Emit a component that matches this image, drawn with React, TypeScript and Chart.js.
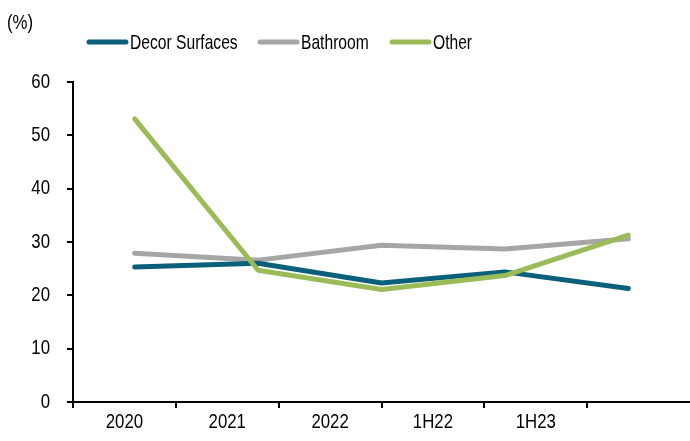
import React, { useEffect, useRef } from "react";
import { Chart, registerables } from "chart.js";

Chart.register(...registerables);

const axisLabels = ["2020", "2021", "2022", "1H22", "1H23", ""];
const pointLabels = ["2020", "2021", "2022", "1H22", "1H23"];
const decorSurfaces = [25.3, 26.0, 22.3, 24.4, 21.3];
const bathroom = [27.9, 26.6, 29.4, 28.7, 30.6];
const other = [53.1, 24.7, 21.1, 23.7, 31.3];
const yTicks = [0, 10, 20, 30, 40, 50, 60];

const BLUE = "#0A5F7B";
const GRAY = "#A6A6A6";
const GREEN = "#9BBB59";
const FONT = "'Liberation Sans', Arial, sans-serif";
const SQUEEZE = 0.8;

const legendItems = [
  { label: "Decor Surfaces", color: BLUE, x: 87 },
  { label: "Bathroom", color: GRAY, x: 258 },
  { label: "Other", color: GREEN, x: 390 },
];

// Render all text narrower, like the condensed text in the reference.
const narrowTextPlugin = {
  id: "narrowText",
  beforeInit(chart: any) {
    const ctx = chart.ctx;
    if (ctx.__narrow) return;
    const orig = ctx.fillText.bind(ctx);
    ctx.fillText = (text: string, x: number, y: number, maxWidth?: number) => {
      ctx.save();
      ctx.translate(x, y);
      ctx.scale(SQUEEZE, 1);
      if (maxWidth !== undefined) orig(text, 0, 0, maxWidth / SQUEEZE);
      else orig(text, 0, 0);
      ctx.restore();
    };
    ctx.__narrow = true;
  },
};

const headerPlugin = {
  id: "header",
  afterDraw(chart: any) {
    const ctx = chart.ctx;
    ctx.save();
    ctx.fillStyle = "#000";
    ctx.font = `21px ${FONT}`;
    ctx.textBaseline = "middle";
    ctx.textAlign = "left";
    ctx.fillText("(%)", 7, 23);
    for (const it of legendItems) {
      ctx.strokeStyle = it.color;
      ctx.lineWidth = 5;
      ctx.lineCap = "round";
      ctx.beginPath();
      ctx.moveTo(it.x + 2, 42);
      ctx.lineTo(it.x + 39, 42);
      ctx.stroke();
      ctx.fillStyle = "#000";
      ctx.save();
      ctx.translate(it.x + 43, 43);
      ctx.scale(0.93, 1);
      ctx.fillText(it.label, 0, 0);
      ctx.restore();
    }
    ctx.restore();
  },
};

const tickColor = (c: any) => (c.type === "tick" ? "#000" : "rgba(0,0,0,0)");

export default function App() {
  const ref = useRef<HTMLCanvasElement>(null);
  useEffect(() => {
    document.body.style.margin = "0";
    const common = {
      borderWidth: 5,
      pointRadius: 0,
      borderCapStyle: "round",
      borderJoinStyle: "round",
      xAxisID: "x2",
    };
    const chart = new Chart(ref.current!, {
      type: "line",
      data: {
        labels: pointLabels,
        datasets: [
          { ...common, label: "Decor Surfaces", data: decorSurfaces, borderColor: BLUE, backgroundColor: BLUE, order: 2 },
          { ...common, label: "Bathroom", data: bathroom, borderColor: GRAY, backgroundColor: GRAY, order: 3 },
          { ...common, label: "Other", data: other, borderColor: GREEN, backgroundColor: GREEN, order: 1 },
        ],
      },
      options: {
        animation: false,
        responsive: false,
        maintainAspectRatio: false,
        layout: { padding: { top: 82, right: 0, left: 0, bottom: 0 } },
        plugins: { legend: { display: false }, tooltip: { enabled: false } },
        scales: {
          x: {
            type: "category",
            labels: axisLabels,
            offset: true,
            position: "bottom",
            grid: {
              offset: true,
              drawOnChartArea: false,
              drawTicks: true,
              tickLength: 6,
              color: tickColor,
              lineWidth: 2,
            },
            border: { display: true, color: "#000", width: 2 },
            ticks: {
              color: "#000",
              font: { family: FONT, size: 21 },
              padding: 2,
              maxRotation: 0,
              autoSkip: false,
            },
            afterFit(s: any) {
              s.height = 39;
            },
          },
          x2: {
            type: "category",
            labels: pointLabels,
            offset: true,
            display: false,
          },
          y: {
            min: 0,
            max: 60,
            afterBuildTicks(s: any) {
              s.ticks = yTicks.map((v) => ({ value: v }));
            },
            grid: {
              drawOnChartArea: false,
              drawTicks: true,
              tickLength: 6,
              color: "#000",
              lineWidth: 2,
            },
            border: { display: true, color: "#000", width: 2 },
            ticks: {
              color: "#000",
              font: { family: FONT, size: 21 },
              padding: 17,
            },
            afterFit(s: any) {
              s.width = 73;
            },
          },
        },
      },
      plugins: [narrowTextPlugin, headerPlugin],
    } as any);
    return () => chart.destroy();
  }, []);
  return (
    <div style={{ position: "absolute", left: 0, top: 0, width: 690, height: 441 }}>
      <canvas ref={ref} width={690} height={441} style={{ width: 690, height: 441 }} />
    </div>
  );
}
